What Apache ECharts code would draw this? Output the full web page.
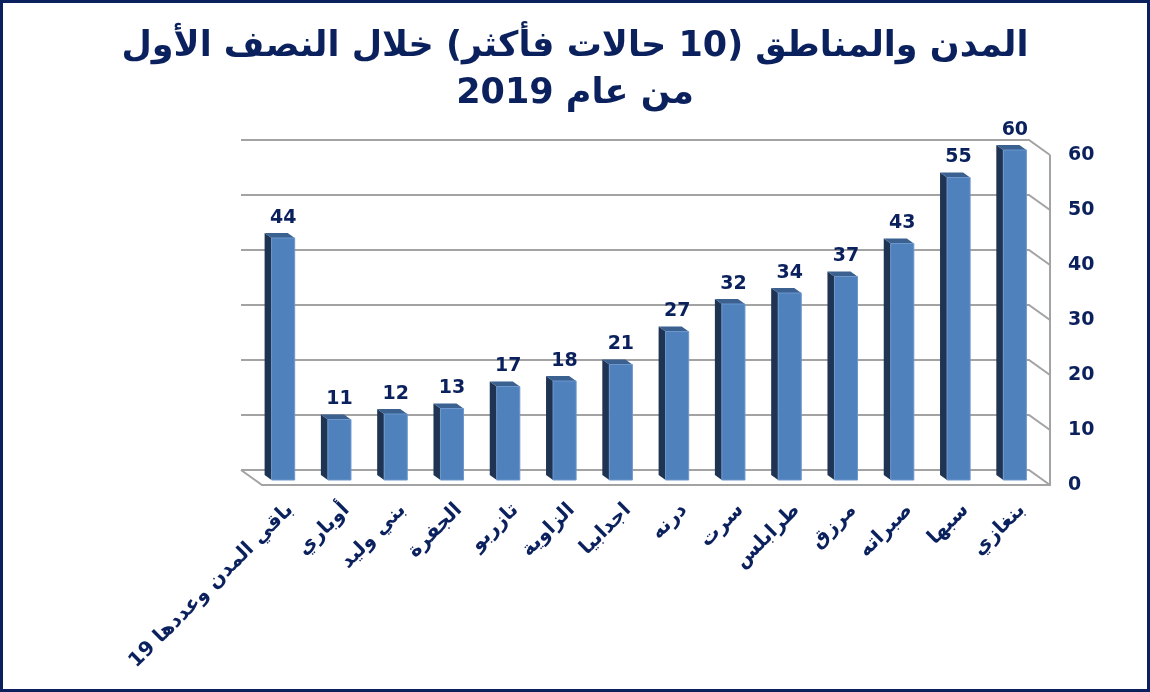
<!DOCTYPE html>
<html>
<head>
<meta charset="utf-8">
<script src="https://cdn.jsdelivr.net/npm/echarts@6/dist/echarts.min.js"></script>
<style>
html,body{margin:0;padding:0;background:#fff;}
#chart{width:1150px;height:692px;}
</style>
</head>
<body>
<div id="chart"></div>
<script>
const titleText = 'المدن والمناطق (10 حالات فأكثر) خلال النصف الأول\nمن عام 2019';
const categories = ['بنغازي','سبها','صبراته','مرزق','طرابلس','سرت','درنه','اجدابيا','الزاوية','تازربو','الجفرة','بني وليد','أوباري','باقي المدن وعددها 19'];
const values = [60,55,43,37,34,32,27,21,18,17,13,12,11,44];
const yTicks = [0,10,20,30,40,50,60];

const NAVY = '#0b215e';
const FONT = 'DejaVu Sans';
const DEPTH = [-21,-15];   // full depth of the 3D box (px)
const GRID_COLOR = '#a3a3a3';

const chart = echarts.init(document.getElementById('chart'), null, {renderer:'canvas'});

function gridRender(params, api){
  const cs = params.coordSys;
  const v = api.value(0);
  const p = api.coord([0, v]);
  const y = p[1];
  const L = cs.x, R = cs.x + cs.width;
  const children = [{
    type:'polyline',
    shape:{points:[[L+DEPTH[0], y+DEPTH[1]],[R+DEPTH[0], y+DEPTH[1]],[R, y]]},
    style:{stroke:GRID_COLOR, lineWidth:2, fill:null}
  }];
  if (v === 0) {
    children.push({type:'polyline',
      shape:{points:[[L+DEPTH[0], y+DEPTH[1]],[L, y],[R, y],[R, cs.y]]},
      style:{stroke:GRID_COLOR, lineWidth:2, fill:null}});
  }
  return {type:'group', children};
}

function barRender(params, api){
  const idx = api.value(0);
  const v = api.value(1);
  const base = api.coord([idx, 0]);
  const top = api.coord([idx, v]);
  const band = api.size([1,0])[0];
  const w = band*0.41;
  const fx = DEPTH[0]/3, fy = DEPTH[1]/3;
  const x0 = base[0] - w/2 + fx, x1 = x0 + w;
  const yT = top[1] + fy, yB = base[1] + fy;
  return {type:'group', children:[
    {type:'polygon', shape:{points:[[x0,yT],[x0+fx,yT+fy],[x0+fx,yB+fy],[x0,yB]]},
      style:{fill:'#1f3452'}},
    {type:'polygon', shape:{points:[[x0,yT],[x1,yT],[x1+fx,yT+fy],[x0+fx,yT+fy]]},
      style:{fill:'#3b6191'}},
    {type:'rect', shape:{x:x0, y:yT, width:w, height:yB-yT},
      style:{fill:'#4f81bd', stroke:'#6d97cc', lineWidth:1}},
    {type:'text', style:{text:String(v), x:(x0+x1)/2, y:yT-20, align:'center', verticalAlign:'middle',
      font:'bold 19px "'+FONT+'"', fill:NAVY}}
  ]};
}

chart.setOption({
  animation:false,
  backgroundColor:'#fff',
  title:{
    text:titleText, left:'center', top:18,
    textStyle:{fontFamily:FONT, fontWeight:'bold', fontSize:35, color:NAVY, lineHeight:47}
  },
  graphic:[{type:'rect', shape:{x:1.5,y:1.5,width:1147,height:689}, style:{fill:null, stroke:'#0b215e', lineWidth:3}, z:100}],
  grid:{left:262, right:100, top:155, bottom:207},
  xAxis:{
    type:'category', data:categories, inverse:true,
    axisLine:{show:false}, axisTick:{show:false},
    axisLabel:{rotate:45, margin:22, interval:0, color:NAVY, fontFamily:FONT, fontWeight:'bold', fontSize:20}
  },
  yAxis:{
    type:'value', min:0, max:60, interval:10, position:'right',
    axisLine:{show:false}, axisTick:{show:false}, splitLine:{show:false},
    axisLabel:{margin:18, color:NAVY, fontFamily:FONT, fontWeight:'bold', fontSize:19, align:'left'}
  },
  series:[
    {type:'custom', renderItem:gridRender, data:yTicks.map(t=>[t]), encode:{y:0}, silent:true, z:1},
    {type:'custom', renderItem:barRender, data:values.map((v,i)=>[i,v]), encode:{x:0,y:1}, z:2}
  ]
});
</script>
</body>
</html>
